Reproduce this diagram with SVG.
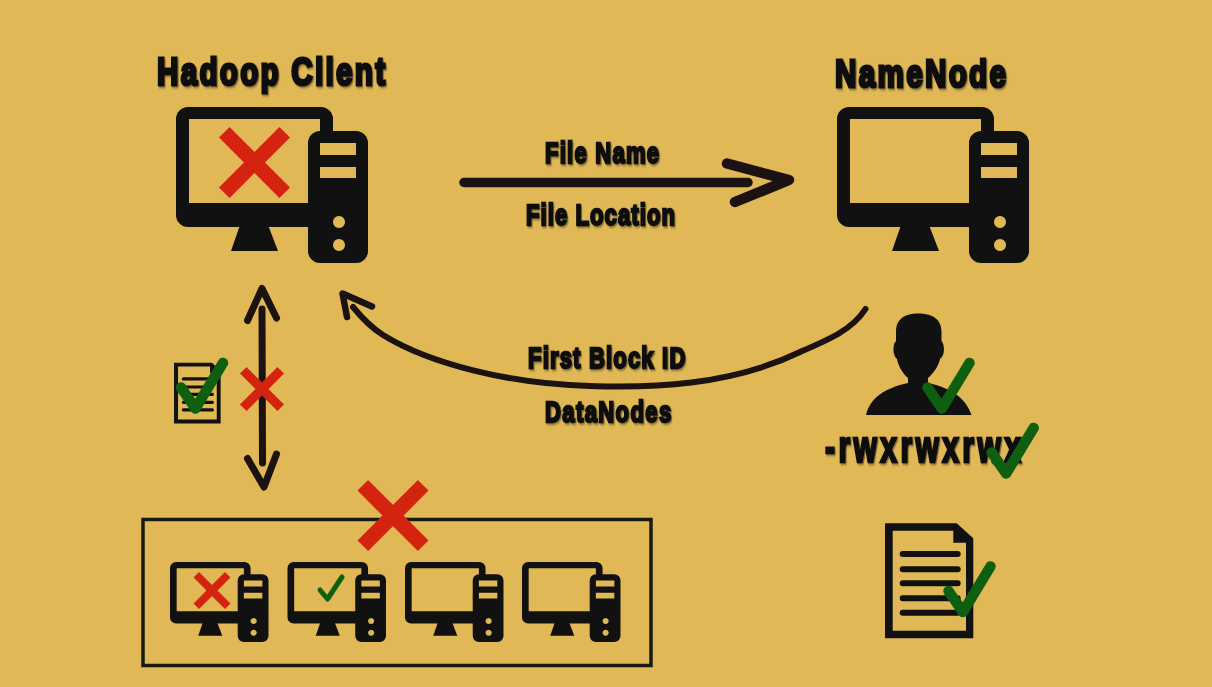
<svg xmlns="http://www.w3.org/2000/svg" width="1212" height="687" viewBox="0 0 1212 687">
<style>
.ink{fill:#111}
.t{font-family:"Liberation Sans",Arial,sans-serif;font-weight:700;fill:#111;stroke:#111;stroke-width:1.6;filter:url(#sh)}
.big{font-size:39px;stroke-width:3}
.mid{font-size:29px;stroke-width:2.3}
.conn{fill:none;stroke:#1c1212;stroke-linecap:round;stroke-linejoin:round}
.x{stroke:#d4230f;stroke-width:15;fill:none}
.chk{fill:none;stroke:#0e6010;stroke-width:10.500;stroke-linecap:round;stroke-linejoin:round}
.box{fill:none;stroke:#1a1a14;stroke-width:3.5}
.doclines{stroke:#111;stroke-width:6;stroke-linecap:round}
</style>
<defs>
<filter id="sh" x="-5%" y="-20%" width="110%" height="150%"><feDropShadow dx="1.5" dy="1.5" stdDeviation="1" flood-color="#000" flood-opacity="0.45"/></filter>
<g id="pc">
<path class="ink" fill-rule="evenodd" d="M12,0H145a12,12 0 0 1 12,12V30H136V120H12a12,12 0 0 1 -12,-12V12A12,12 0 0 1 12,0ZM13,12V96H136V30H144V12Z"/>
<polygon class="ink" points="64,118 92,118 102,144 55,144"/>
<path class="ink" fill-rule="evenodd" d="M144,24H180a12,12 0 0 1 12,12V144a12,12 0 0 1 -12,12H144a12,12 0 0 1 -12,-12V36a12,12 0 0 1 12,-12ZM144,36V48H180V36ZM144,60V71H180V60ZM163,109a6,6 0 1 0 .01,0ZM163,132a6,6 0 1 0 .01,0Z"/>
</g>
<path id="xm" class="x" d="M-30.2,-30.2L30.2,30.2M30.2,-30.2L-30.2,30.2"/>
<polyline id="ck" class="chk" points="0,0 14.4,21 42,-24.6"/>
<g id="doc">
<path class="ink" fill-rule="evenodd" d="M0,0H71.7L88.3,15V115H0ZM7.7,7.4V107.4H81V19.4H68.3V7.4Z"/>
<path class="doclines" d="M17.7,30.7H72.7M17.7,46H72.7M17.7,60H72.7M17.7,75H72.7M17.7,89.4H72.7"/>
</g>
</defs>
<rect width="1212" height="687" fill="#e0b855"/>

<g id="connectors">
<path class="conn" stroke-width="9.5" d="M464,182.5H748"/>
<path class="conn" stroke-width="10.500" d="M727,163.5L789,180L735,202"/>
<path class="conn" stroke-width="6" d="M865.500,309C852,330 828,340 800,352C730,386 650,388 590,386C510,384 430,364 383,335C370,327 362,318 353,307"/>
<path class="conn" stroke-width="6.500" d="M372,306.500L342.500,293.500L347,317"/>
<path class="conn" stroke-width="7" d="M262,309L262.500,463"/>
<path class="conn" stroke-width="7" d="M247.500,320.500L262,288.500L276.500,318"/>
<path class="conn" stroke-width="7" d="M247.500,458.500L264,487L276.500,454"/>
</g>

<g id="hadoop-client">
<use href="#pc" x="176" y="107"/>
<use href="#xm" x="254.5" y="162.5"/>
<text class="t big" transform="translate(157,85) scale(.76,1)" textLength="300" lengthAdjust="spacing">Hadoop Client</text>
</g>

<g id="namenode">
<use href="#pc" x="837" y="107"/>
<text class="t big" transform="translate(835,87) scale(.76,1)" textLength="225" lengthAdjust="spacing">NameNode</text>
</g>

<g id="labels">
<text class="t mid" transform="translate(545,163) scale(.76,1)" textLength="150" lengthAdjust="spacing">File Name</text>
<text class="t mid" transform="translate(526,224.500) scale(.76,1)" textLength="196" lengthAdjust="spacing">File Location</text>
<text class="t mid" transform="translate(528,368) scale(.76,1)" textLength="207" lengthAdjust="spacing">First Block ID</text>
<text class="t mid" transform="translate(545,422) scale(.76,1)" textLength="166" lengthAdjust="spacing">DataNodes</text>
</g>

<g id="block-check">
<use href="#doc" transform="translate(174,362.700) scale(.528)"/>
<use href="#ck" x="181" y="387.500"/>
<use href="#xm" transform="translate(262,389) scale(.62)"/>
</g>

<g id="user">
<path class="ink" d="M866,415C870,398 885,388 908,383L908,378C902,373 898,365 897,359C893,356 892,345 896,341L896,332C896,318 906,313.500 918,313.500C931,313.500 941.500,318 941.500,332L941.500,341C945,345 945,356 940,359C939,365 934,373 928,378L928,383C951,388 966,398 971.500,415Z"/>
<use href="#ck" x="927.500" y="387.500"/>
</g>

<g id="permissions">
<text class="t" font-size="44" style="stroke-width:2.600" transform="translate(825,462) scale(.68,1)" textLength="288" lengthAdjust="spacing">-rwxrwxrwx</text>
<use href="#ck" x="991.700" y="452.500"/>
</g>

<g id="file">
<use href="#doc" x="885" y="523.300"/>
<use href="#ck" x="948.500" y="591"/>
</g>

<g id="datanodes">
<rect class="box" x="143" y="519.500" width="508" height="146"/>
<g id="dn1">
<use href="#pc" transform="translate(170,562) scale(.513)"/>
<use href="#xm" transform="translate(212,590.500) scale(.52)"/>
</g>
<g id="dn2">
<use href="#pc" transform="translate(287.500,562) scale(.513)"/>
<polyline class="chk" style="stroke-width:5" points="320,590 327.500,599 342,577"/>
</g>
<g id="dn3"><use href="#pc" transform="translate(405,562) scale(.513)"/></g>
<g id="dn4"><use href="#pc" transform="translate(522,562) scale(.513)"/></g>
<use href="#xm" x="393" y="515.500"/>
</g>
</svg>
